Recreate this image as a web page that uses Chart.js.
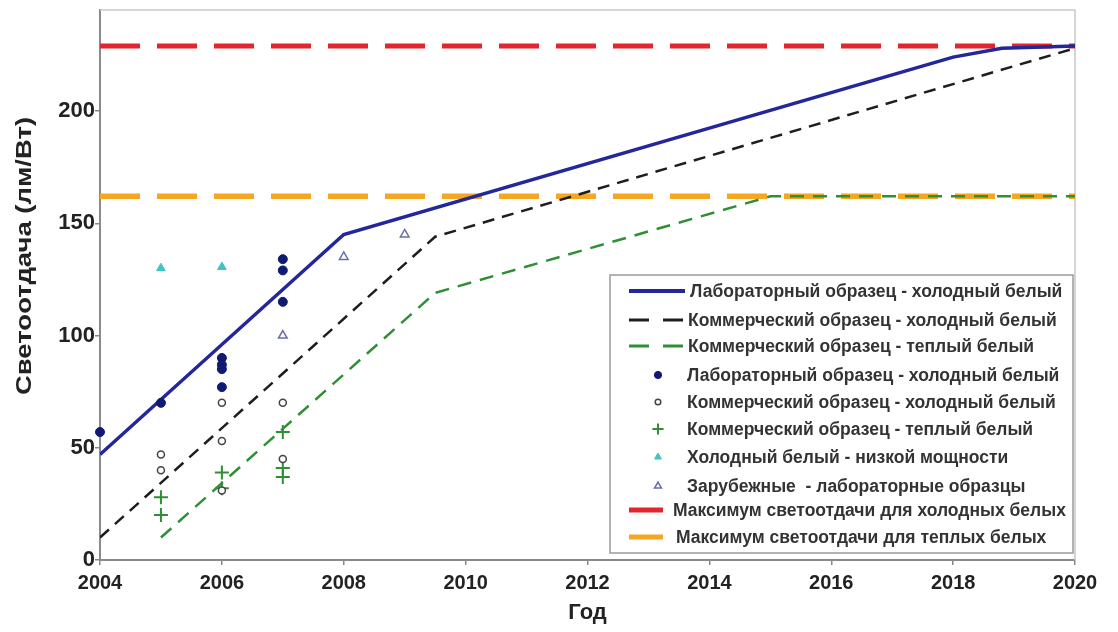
<!DOCTYPE html>
<html>
<head>
<meta charset="utf-8">
<title>Светоотдача светодиодов</title>
<script src="https://cdn.jsdelivr.net/npm/chart.js@4.4.1/dist/chart.umd.min.js"></script>
<style>
  html, body { margin: 0; padding: 0; background: #fff; }
  #wrap { width: 1118px; height: 632px; position: relative; }
</style>
</head>
<body>
<div id="wrap"><canvas id="c"></canvas></div>
<script>
// ---- Axis ranges and tick labels ----
const yearMin = 2004;
const yearMax = 2020;
const yearTicks = [2004, 2006, 2008, 2010, 2012, 2014, 2016, 2018, 2020];
const effTicks = [0, 50, 100, 150, 200];
const effMax = 245;

// ---- Trend lines (lm/W by year) ----
const labColdLineX  = [2004, 2008, 2018, 2018.8, 2020];
const labColdLineY  = [47, 145, 224, 228, 229];
const commColdLineX = [2004, 2009.5, 2020];
const commColdLineY = [10, 144, 228];
const commWarmLineX = [2005, 2009.5, 2015, 2020];
const commWarmLineY = [10, 119, 162, 162];

// ---- Efficacy limits ----
const coldMaxX = [2004, 2020];
const coldMaxY = [229, 229];
const warmMaxX = [2004, 2020];
const warmMaxY = [162, 162];

// ---- Measured samples ----
const labColdPtsX   = [2004, 2005, 2006, 2006, 2006, 2006, 2007, 2007, 2007];
const labColdPtsY   = [57, 70, 90, 87, 85, 77, 134, 129, 115];
const commColdPtsX  = [2005, 2005, 2006, 2006, 2006, 2007, 2007];
const commColdPtsY  = [47, 40, 70, 53, 31, 70, 45];
const commWarmPtsX  = [2005, 2005, 2006, 2006, 2007, 2007, 2007];
const commWarmPtsY  = [28, 20, 39, 32, 57, 41, 37];
const lowPowerPtsX  = [2005, 2006];
const lowPowerPtsY  = [130, 130.5];
const foreignPtsX   = [2007, 2008, 2009];
const foreignPtsY   = [100, 135, 145];

const pts = (xs, ys) => xs.map((x, i) => ({ x: x, y: ys[i] }));

const FONT = "'Liberation Sans', Arial, sans-serif";

const datasets = [
  { label: 'Лабораторный образец - холодный белый', data: pts(labColdLineX, labColdLineY),
    showLine: true, borderColor: '#23279a', borderWidth: 3.5, pointRadius: 0, order: 5 },
  { label: 'Коммерческий образец - холодный белый', data: pts(commColdLineX, commColdLineY),
    showLine: true, borderColor: '#1e1e1e', borderWidth: 2.5, borderDash: [12, 8], pointRadius: 0, order: 5 },
  { label: 'Коммерческий образец - теплый белый', data: pts(commWarmLineX, commWarmLineY),
    showLine: true, borderColor: '#2f8f35', borderWidth: 2.5, borderDash: [14, 9], pointRadius: 0, order: 4 },
  { label: 'Лабораторный образец - холодный белый', data: pts(labColdPtsX, labColdPtsY), clip: false,
    pointStyle: 'circle', pointRadius: 4.5, backgroundColor: '#101a72', borderColor: '#101a72', borderWidth: 1, order: 1 },
  { label: 'Коммерческий образец - холодный белый', data: pts(commColdPtsX, commColdPtsY), clip: false,
    pointStyle: 'circle', pointRadius: 3.5, backgroundColor: '#ffffff', borderColor: '#444', borderWidth: 1.5, order: 1 },
  { label: 'Коммерческий образец - теплый белый', data: pts(commWarmPtsX, commWarmPtsY), clip: false,
    pointStyle: 'cross', pointRadius: 7, backgroundColor: '#2f8f35', borderColor: '#2f8f35', borderWidth: 2, order: 1 },
  { label: 'Холодный белый - низкой мощности', data: pts(lowPowerPtsX, lowPowerPtsY), clip: false,
    pointStyle: 'triangle', pointRadius: 5, backgroundColor: '#3fc4c0', borderColor: '#3fc4c0', borderWidth: 1, order: 1 },
  { label: 'Зарубежные  - лабораторные образцы', data: pts(foreignPtsX, foreignPtsY), clip: false,
    pointStyle: 'triangle', pointRadius: 5, backgroundColor: '#ffffff', borderColor: '#6a6ea8', borderWidth: 1.5, order: 1 },
  { label: 'Максимум светоотдачи для холодных белых', data: pts(coldMaxX, coldMaxY),
    showLine: true, borderColor: '#e3262c', borderWidth: 5, borderDash: [40, 17], pointRadius: 0, order: 10 },
  { label: 'Максимум светоотдачи для теплых белых', data: pts(warmMaxX, warmMaxY),
    showLine: true, borderColor: '#f5a623', borderWidth: 5.5, borderDash: [40, 17], pointRadius: 0, order: 10 }
];

// Legend rows: dataset index, sample kind, row centre, text start
const legendRows = [
  { ds: 0, kind: 'line',  y: 291, tx: 690, x0: 629, x1: 685 },
  { ds: 1, kind: 'line',  y: 320, tx: 688, x0: 629, x1: 685, dash: [20, 14] },
  { ds: 2, kind: 'line',  y: 346, tx: 688, x0: 629, x1: 685, dash: [20, 14] },
  { ds: 3, kind: 'point', y: 375, tx: 687, px: 658 },
  { ds: 4, kind: 'point', y: 402, tx: 687, px: 658 },
  { ds: 5, kind: 'point', y: 429, tx: 687, px: 658 },
  { ds: 6, kind: 'point', y: 457, tx: 687, px: 658 },
  { ds: 7, kind: 'point', y: 486, tx: 687, px: 658 },
  { ds: 8, kind: 'line',  y: 510, tx: 673, x0: 629, x1: 663 },
  { ds: 9, kind: 'line',  y: 537, tx: 676, x0: 629, x1: 663 }
];

const framePlugin = {
  id: 'frame',
  beforeDatasetsDraw(chart) {
    const { ctx, chartArea: a } = chart;
    ctx.save();
    ctx.strokeStyle = '#c8c8c8';
    ctx.lineWidth = 1.5;
    ctx.beginPath();
    ctx.moveTo(a.left, a.top);
    ctx.lineTo(a.right, a.top);
    ctx.lineTo(a.right, a.bottom);
    ctx.stroke();
    ctx.restore();
  },
  afterDraw(chart) {
    const ctx = chart.ctx;
    ctx.save();
    // y axis title
    ctx.translate(25, 256);
    ctx.rotate(-Math.PI / 2);
    ctx.scale(1.25, 1);
    ctx.font = 'bold 22px ' + FONT;
    ctx.fillStyle = '#222';
    ctx.textAlign = 'center';
    ctx.textBaseline = 'middle';
    ctx.fillText('Светоотдача (лм/Вт)', 0, 0);
    ctx.restore();

    // legend box
    ctx.save();
    ctx.fillStyle = '#ffffff';
    ctx.fillRect(610, 275, 463, 278);
    ctx.strokeStyle = '#9a9a9a';
    ctx.lineWidth = 1.5;
    ctx.strokeRect(610, 275, 463, 278);
    ctx.font = 'bold 17.5px ' + FONT;
    ctx.textBaseline = 'middle';
    ctx.textAlign = 'left';
    legendRows.forEach(r => {
      const d = chart.data.datasets[r.ds];
      if (r.kind === 'line') {
        ctx.save();
        ctx.strokeStyle = d.borderColor;
        ctx.lineWidth = Math.min(d.borderWidth + 0.5, 5);
        ctx.setLineDash(r.dash || []);
        ctx.beginPath();
        ctx.moveTo(r.x0, r.y);
        ctx.lineTo(r.x1, r.y);
        ctx.stroke();
        ctx.restore();
      } else {
        ctx.save();
        ctx.fillStyle = d.backgroundColor;
        ctx.strokeStyle = d.borderColor;
        ctx.lineWidth = d.borderWidth;
        Chart.helpers.drawPoint(ctx, {
          pointStyle: d.pointStyle, rotation: 0,
          radius: d.pointRadius * 0.8, borderWidth: d.borderWidth
        }, r.px, r.y);
        ctx.restore();
      }
      ctx.fillStyle = '#333';
      ctx.fillText(d.label, r.tx, r.y + 1);
    });
    ctx.restore();
  }
};

new Chart(document.getElementById('c'), {
  type: 'scatter',
  data: { datasets: datasets },
  plugins: [framePlugin],
  options: {
    responsive: true,
    maintainAspectRatio: false,
    animation: false,
    layout: { padding: { left: 0, top: 10, right: 43, bottom: 0 } },
    plugins: { legend: { display: false }, tooltip: { enabled: false } },
    elements: { line: { tension: 0, fill: false } },
    scales: {
      x: {
        type: 'linear',
        min: yearMin, max: yearMax,
        afterFit(s) { s.height = 72; s.paddingLeft = 0; s.paddingRight = 0; },
        afterBuildTicks(s) { s.ticks = yearTicks.map(v => ({ value: v })); },
        grid: { drawOnChartArea: false, drawTicks: true, tickLength: 5, color: '#888', lineWidth: 1.5 },
        border: { color: '#8a8a8a', width: 2 },
        ticks: {
          padding: 6, color: '#222',
          font: { family: FONT, size: 20, weight: 'bold' },
          callback: v => String(v)
        },
        title: {
          display: true, text: 'Год', color: '#222',
          font: { family: FONT, size: 22, weight: 'bold' },
          padding: { top: 2, bottom: 6 }
        }
      },
      y: {
        type: 'linear',
        min: 0, max: effMax,
        afterFit(s) { s.width = 100; s.paddingTop = 0; s.paddingBottom = 0; },
        afterBuildTicks(s) { s.ticks = effTicks.map(v => ({ value: v })); },
        grid: { drawOnChartArea: false, drawTicks: true, tickLength: 5, color: '#888', lineWidth: 1.5 },
        border: { color: '#8a8a8a', width: 2 },
        ticks: {
          padding: 0, color: '#222',
          font: { family: FONT, size: 22, weight: 'bold' },
          callback: v => String(v)
        }
      }
    }
  }
});
</script>
</body>
</html>
